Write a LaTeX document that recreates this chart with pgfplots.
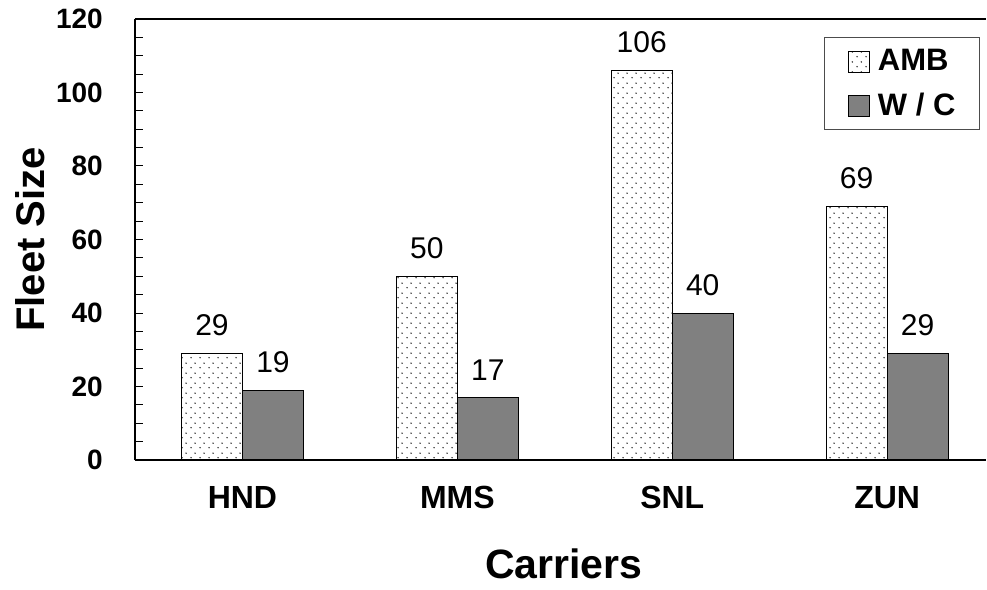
\documentclass[border=0pt]{standalone}
\usepackage{fontspec}
\setmainfont{Liberation Sans}
\usepackage{pgfplots}
\pgfplotsset{compat=1.18}
\usetikzlibrary{patterns.meta}
\pgfdeclarepattern{
  name=sparsedots,
  parameters={},
  bottom left={\pgfpoint{0pt}{0pt}},
  top right={\pgfpoint{9pt}{10pt}},
  tile size={\pgfpoint{9pt}{10pt}},
  tile transformation={},
  code={
    \pgfsetfillcolor{black!85}
    \pgfpathcircle{\pgfpoint{2.25pt}{2.5pt}}{0.85pt}
    \pgfpathcircle{\pgfpoint{6.75pt}{7.5pt}}{0.85pt}
    \pgfusepath{fill}
  }
}
\definecolor{wcgray}{RGB}{128,128,128}
\pgfplotstableread{
x amb wc
0 29 19
1 50 17
2 106 40
3 69 29
}\fleet
\begin{document}
\begin{tikzpicture}
\path[use as bounding box] (-135pt,-129pt) rectangle (852pt,460pt);
\begin{axis}[
  name=ax,
  at={(0pt,0pt)}, anchor=south west,
  scale only axis, width=851pt, height=441pt,
  ybar=0pt, bar width=61pt,
  xmin=-0.5, xmax=3.46,
  ymin=0, ymax=120,
  xtick=data, xticklabels={HND,MMS,SNL,ZUN},
  ytick={0,20,...,120}, minor y tick num=3,
  axis x line=bottom, axis y line=left,
  axis line style={-, line width=1.5pt, black},
  x axis line style={line width=2pt},
  tick align=inside,
  major tick length=8pt, minor tick length=8pt,
  every tick/.style={black, line width=1pt},
  major x tick style={draw=none},
  /pgf/number format/assume math mode=true,
  yticklabel style={font=\fontsize{28}{30}\selectfont\bfseries, anchor=east, inner sep=0pt, xshift=-32pt},
  xticklabel style={font=\fontsize{32}{34}\selectfont\bfseries, anchor=base, inner sep=0pt, yshift=-48pt},
  xlabel={Carriers},
  every axis x label/.style={at={(axis description cs:0.504,0)}, anchor=base, yshift=-118pt, font=\fontsize{41}{44}\selectfont\bfseries},
  ylabel={Fleet Size},
  every axis y label/.style={at={(axis description cs:0,0.5)}, xshift=-105pt, rotate=90, anchor=center, font=\fontsize{40}{44}\selectfont\bfseries},
  nodes near coords,
  every node near coord/.append style={font=\fontsize{30}{32}\selectfont, anchor=south, inner sep=0pt, yshift=17pt, black},
  axis on top,
  legend style={at={(1,1)}, anchor=north east, xshift=-6pt, yshift=-18pt,
    draw=black!70, line width=1.2pt, font=\fontsize{31}{33}\selectfont\bfseries,
    inner xsep=24pt, inner ysep=12pt, row sep=21pt, column sep=8pt,
    nodes={inner sep=0pt}},
  legend cell align=left,
  legend image code/.code={\draw[#1, line width=0.8pt] (0pt,-11pt) rectangle (21pt,10pt);},
]
\addplot[draw=black, line width=1pt, pattern=sparsedots] table[x=x, y=amb] {\fleet};
\addplot[draw=black, line width=1pt, fill=wcgray] table[x=x, y=wc] {\fleet};
\legend{AMB, W / C}
\end{axis}
\draw[line width=1.5pt, black] (ax.north west) -- (ax.north east);
\end{tikzpicture}
\end{document}
